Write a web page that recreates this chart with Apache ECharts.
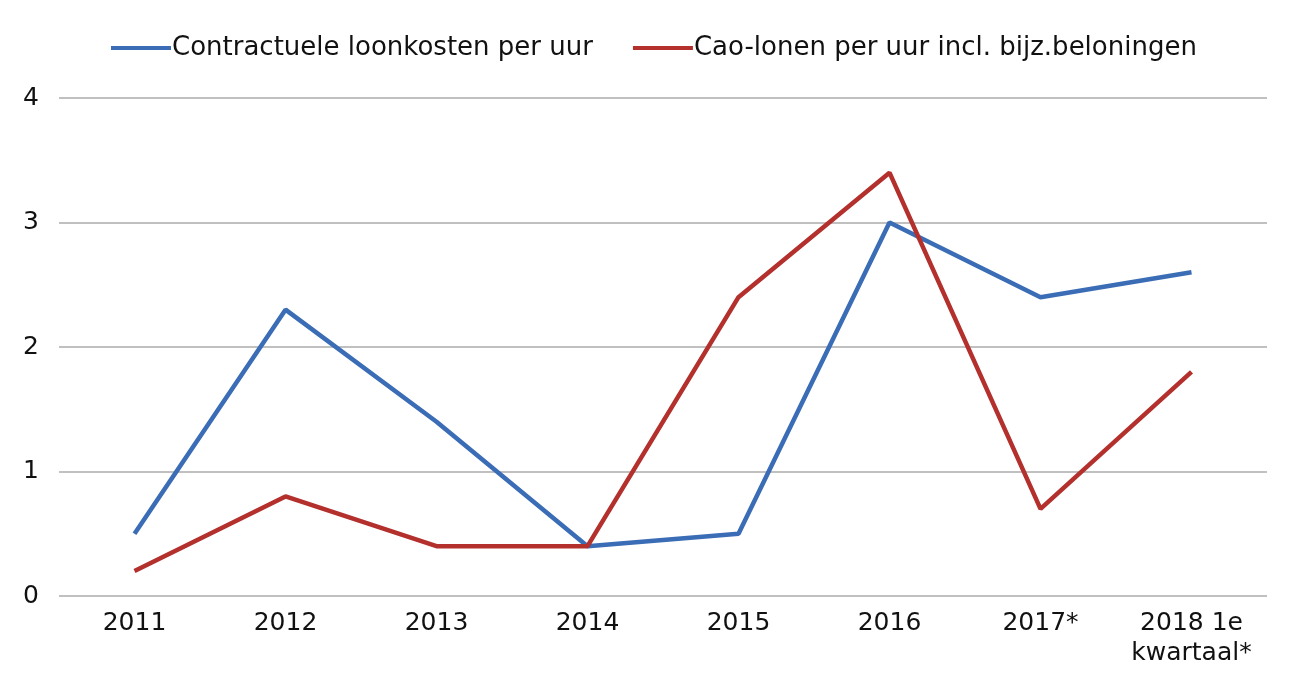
<!DOCTYPE html>
<html>
<head>
<meta charset="utf-8">
<script src="https://cdn.jsdelivr.net/npm/echarts@6/dist/echarts.min.js"></script>
<style>html,body{margin:0;padding:0;background:#fff;}#c{width:1299px;height:690px;}</style>
</head>
<body>
<div id="c"></div>
<script>
const categories = ['2011','2012','2013','2014','2015','2016','2017*','2018 1e\nkwartaal*'];
const seriesNames = ['Contractuele loonkosten per uur','Cao-lonen per uur incl. bijz.beloningen'];
const contractueleLoonkosten = [0.5, 2.3, 1.4, 0.4, 0.5, 3.0, 2.4, 2.6];
const caoLonen = [0.2, 0.8, 0.4, 0.4, 2.4, 3.4, 0.7, 1.8];
const yTicks = [0, 1, 2, 3, 4];

const chart = echarts.init(document.getElementById('c'));
const font = 'DejaVu Sans';
chart.setOption({
  animation: false,
  textStyle: {fontFamily: font},
  legend: {
    left: 106, top: 30,
    icon: 'rect', itemWidth: 60, itemHeight: 4, itemGap: 40,
    textStyle: {fontFamily: font, fontSize: 26, color: '#111', padding: [0,0,0,-4]},
    data: seriesNames
  },
  grid: {left: 59, right: 32, top: 98, bottom: 94, containLabel: false},
  xAxis: {
    type: 'category', data: categories, boundaryGap: true,
    axisLine: {show: false}, axisTick: {show: false},
    axisLabel: {fontFamily: font, fontSize: 25, color: '#111', margin: 12, lineHeight: 30, interval: 0}
  },
  yAxis: {
    type: 'value', min: yTicks[0], max: yTicks[yTicks.length-1], interval: 1,
    axisLine: {show: false}, axisTick: {show: false},
    axisLabel: {fontFamily: font, fontSize: 25, color: '#111', margin: 20},
    splitLine: {lineStyle: {color: '#c0c0c0', width: 2}}
  },
  series: [
    {name: seriesNames[0], type: 'line', data: contractueleLoonkosten, symbol: 'none',
     lineStyle: {color: '#3a6db5', width: 4.5}, itemStyle: {color: '#3a6db5'}},
    {name: seriesNames[1], type: 'line', data: caoLonen, symbol: 'none',
     lineStyle: {color: '#b3302d', width: 4.5}, itemStyle: {color: '#b3302d'}}
  ]
});
</script>
</body>
</html>
